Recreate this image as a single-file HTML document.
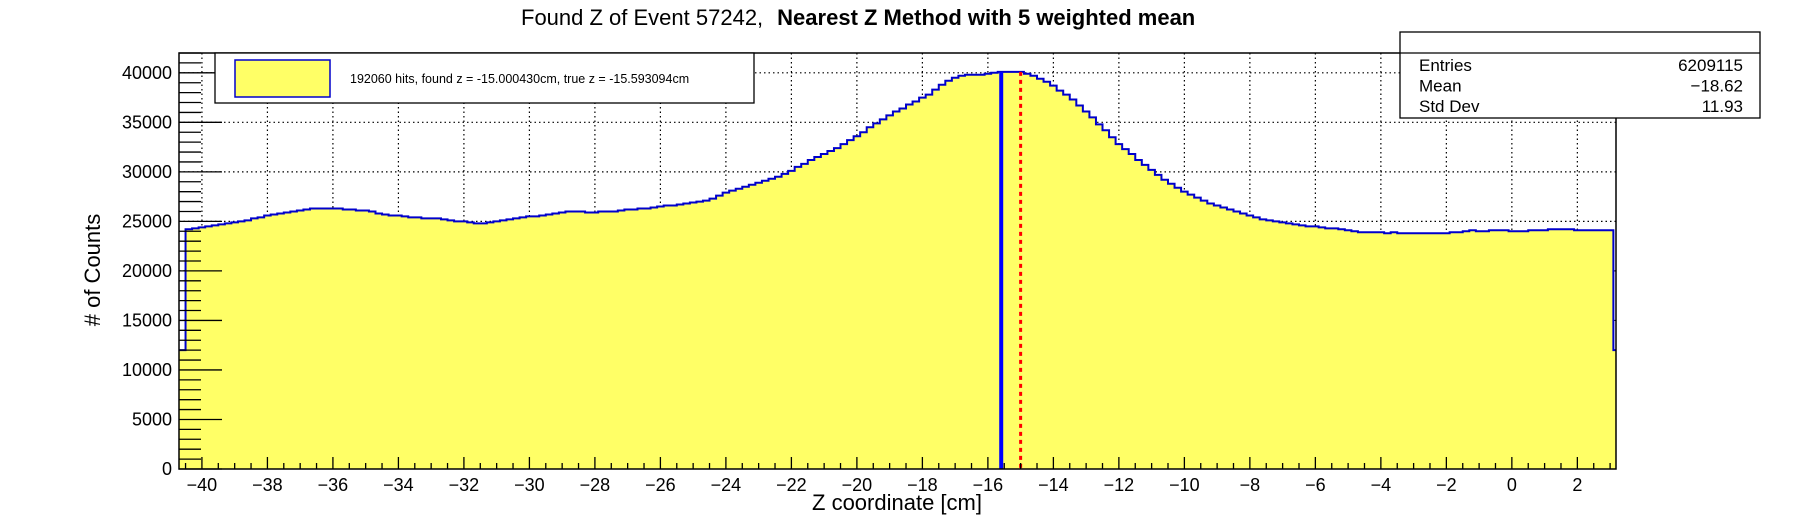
<!DOCTYPE html>
<html><head><meta charset="utf-8"><style>
body{margin:0;background:#fff;}
svg{display:block;font-family:"Liberation Sans",Arial,sans-serif;}
</style></head><body>
<svg id="c" width="1796" height="522" viewBox="0 0 1796 522" xmlns="http://www.w3.org/2000/svg">
<text x="521" y="25" font-size="22">Found Z of Event 57242,<tspan dx="14" font-weight="bold">Nearest Z Method with 5 weighted mean</tspan></text>
<g id="grid"></g>
<g id="hist"></g>
<g id="axes"></g>
</svg>
<script>
const xMin=-40.7, xMax=3.18, yMax=42000, binStart=-40.7, binWidth=0.2;
const counts=[
12000,24200,24300,24400,24500,24600,24700,24800,24900,25000,
25100,25300,25400,25600,25700,25800,25900,26000,26100,26200,
26300,26300,26300,26300,26300,26200,26200,26100,26100,26000,
25800,25700,25600,25600,25500,25400,25400,25300,25300,25300,
25200,25100,25000,25000,24900,24800,24800,24900,25000,25100,
25200,25300,25400,25500,25500,25600,25700,25800,25900,26000,
26000,26000,25900,25900,26000,26000,26000,26100,26200,26200,
26300,26300,26400,26500,26600,26600,26700,26800,26900,27000,
27100,27300,27600,27900,28100,28300,28500,28700,28900,29100,
29300,29500,29800,30100,30500,30800,31200,31500,31800,32100,
32400,32800,33200,33600,34000,34500,34900,35300,35700,36100,
36400,36800,37100,37500,37800,38300,38800,39200,39500,39700,
39800,39800,39800,39900,40000,40100,40100,40100,40100,39900,
39700,39400,39100,38700,38200,37800,37300,36700,36100,35500,
34800,34200,33500,32800,32300,31800,31200,30700,30200,29700,
29200,28800,28400,28000,27700,27400,27100,26800,26600,26400,
26200,26000,25800,25600,25400,25200,25100,25000,24900,24800,
24700,24600,24500,24500,24400,24300,24300,24200,24100,24000,
23900,23900,23900,23900,23800,23900,23800,23800,23800,23800,
23800,23800,23800,23800,23900,23900,24000,24100,24000,24000,
24100,24100,24100,24000,24000,24000,24100,24100,24100,24200,
24200,24200,24200,24100,24100,24100,24100,24100,24100,12000];
const xTicks=[-40,-38,-36,-34,-32,-30,-28,-26,-24,-22,-20,-18,-16,-14,-12,-10,-8,-6,-4,-2,0,2];
const yTicks=[0,5000,10000,15000,20000,25000,30000,35000,40000];
const foundZ=-15.000430, trueZ=-15.593094;
const stats=[["Entries","6209115"],["Mean","\u221218.62"],["Std Dev","11.93"]];

const L=179,R=1616,T=53,B=469;
const X=z=>L+(z-xMin)/(xMax-xMin)*(R-L);
const Y=v=>B-v/yMax*(B-T);
const NS="http://www.w3.org/2000/svg";
function mk(parent,tag,attrs){const e=document.createElementNS(NS,tag);for(const k in attrs)e.setAttribute(k,attrs[k]);parent.appendChild(e);return e;}
const svg=document.getElementById('c');
const grid=document.getElementById('grid'),hist=document.getElementById('hist'),axes=document.getElementById('axes');

xTicks.forEach(t=>{const l=mk(grid,'line',{x1:X(t),x2:X(t),y1:T,y2:B,stroke:'#000','stroke-width':1.2,'stroke-dasharray':'1.5 3'});

});
yTicks.forEach(t=>{if(t===0)return;const l=mk(grid,'line',{x1:L,x2:R,y1:Y(t),y2:Y(t),stroke:'#000','stroke-width':1.2,'stroke-dasharray':'1.5 3'});

});

// histogram
let d='M'+L+' '+B;
counts.forEach((c,i)=>{let x0=Math.max(L,X(binStart+i*binWidth)),x1=Math.min(R,X(binStart+(i+1)*binWidth));d+=' L'+x0+' '+Y(c)+' L'+x1+' '+Y(c);});
d+=' L'+R+' '+B+' Z';
const fill=mk(hist,'path',{d:d,fill:'#ffff66',stroke:'none'});


let ld='';
counts.forEach((c,i)=>{let x0=Math.max(L,X(binStart+i*binWidth)),x1=Math.min(R,X(binStart+(i+1)*binWidth));ld+=(i?' L':'M')+x0+' '+Y(c)+' L'+x1+' '+Y(c);});
const line=mk(hist,'path',{d:ld,fill:'none',stroke:'#0000cc','stroke-width':2});



const tl=mk(hist,'line',{x1:X(trueZ),x2:X(trueZ),y1:Y(40100),y2:B,stroke:'#0000ff','stroke-width':4});


const fl=mk(hist,'line',{x1:X(foundZ),x2:X(foundZ),y1:Y(40100),y2:B,stroke:'#ff0000','stroke-width':3,'stroke-dasharray':'4 4'});



// frame
const fr=mk(axes,'rect',{x:L,y:T,width:R-L,height:B-T,fill:'none',stroke:'#000','stroke-width':1.5});



// x ticks
for(let z=-40.5;z<=3.18;z+=0.5){const major=Math.abs(z-Math.round(z/2)*2)<1e-6;
const t=mk(axes,'line',{x1:X(z),x2:X(z),y1:B,y2:B-(major?12:6),stroke:'#000','stroke-width':1.3});

}
xTicks.forEach(t=>{const e=mk(axes,'text',{x:X(t),y:491,'font-size':18,'text-anchor':'middle'});e.textContent=(t<0?'\u2212':'')+Math.abs(t);

});
// y ticks
for(let v=0;v<=yMax;v+=1000){const major=v%5000===0;
const t=mk(axes,'line',{x1:L,x2:L+(major?43:22),y1:Y(v),y2:Y(v),stroke:'#000','stroke-width':1.3});

}
yTicks.forEach(t=>{const e=mk(axes,'text',{x:172,y:Y(t)+6,'font-size':18,'text-anchor':'end'});e.textContent=t;

});

const xl=mk(axes,'text',{x:897,y:510,'font-size':22,'text-anchor':'middle'});xl.textContent='Z coordinate [cm]';


const yl=mk(axes,'text',{x:0,y:0,'font-size':22,'text-anchor':'middle',transform:'translate(100,270) rotate(-90)'});yl.textContent='# of Counts';



// legend
const lg=mk(axes,'g',{});


mk(lg,'rect',{x:215,y:53,width:539,height:50,fill:'#fff',stroke:'#000','stroke-width':1.3});
const sw=mk(lg,'rect',{x:235,y:60,width:95,height:37,fill:'#ffff66',stroke:'#0000cc','stroke-width':1.5});


const lt=mk(lg,'text',{x:350,y:83,'font-size':12.5});lt.textContent='192060 hits, found z = -15.000430cm, true z = -15.593094cm';



// stats box
const sb=mk(svg,'g',{});


mk(sb,'rect',{x:1400,y:32,width:360,height:86,fill:'#fff',stroke:'#000','stroke-width':1.3});
mk(sb,'line',{x1:1400,x2:1760,y1:53,y2:53,stroke:'#000','stroke-width':1.3});
stats.forEach((s,i)=>{const y=71+i*20.5;
const a=mk(sb,'text',{x:1419,y:y,'font-size':17});a.textContent=s[0];


const b=mk(sb,'text',{x:1743,y:y,'font-size':17,'text-anchor':'end'});b.textContent=s[1];

});
</script>
</body></html>
